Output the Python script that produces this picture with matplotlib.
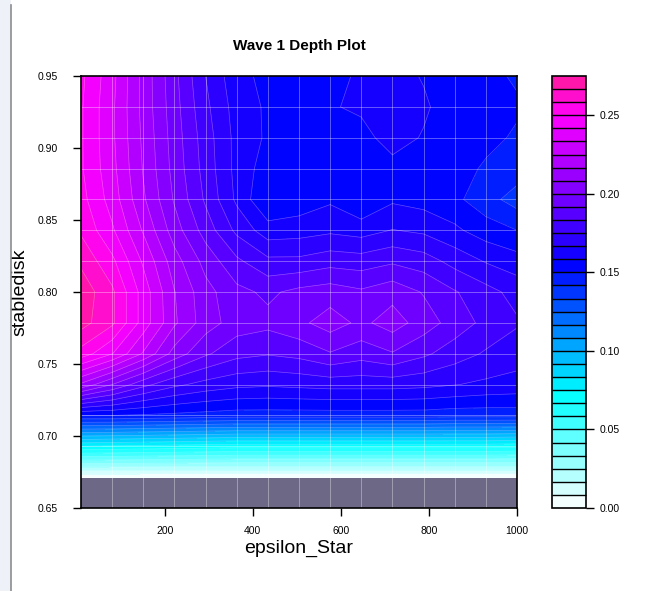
import numpy as np
import matplotlib
matplotlib.use("Agg")
import matplotlib.pyplot as plt
from matplotlib.colors import LinearSegmentedColormap
from matplotlib.patches import Rectangle
from matplotlib.lines import Line2D

plt.rcParams['font.family'] = ['Liberation Sans', 'DejaVu Sans']

# grille des points (epsilon_Star en x, stabledisk en y)
eps_star = np.linspace(10, 1000, 15)
stabledisk = np.linspace(0.65, 0.95, 15)

# profondeur de la vague 1, une ligne par valeur de stabledisk (du bas vers le haut)
depth = np.array([
    [np.nan] * 15,
    [0.001] * 15,
    [0.075, 0.074, 0.073, 0.072, 0.071, 0.070, 0.070, 0.070, 0.070, 0.070, 0.070, 0.070, 0.070, 0.070, 0.069],
    [0.150, 0.150, 0.149, 0.148, 0.147, 0.146, 0.146, 0.146, 0.146, 0.146, 0.146, 0.146, 0.145, 0.145, 0.145],
    [0.215, 0.200, 0.186, 0.177, 0.172, 0.169, 0.168, 0.169, 0.170, 0.170, 0.170, 0.169, 0.167, 0.165, 0.164],
    [0.255, 0.242, 0.224, 0.205, 0.193, 0.186, 0.184, 0.186, 0.191, 0.187, 0.191, 0.185, 0.179, 0.174, 0.170],
    [0.270, 0.260, 0.238, 0.218, 0.204, 0.196, 0.194, 0.198, 0.204, 0.198, 0.204, 0.196, 0.188, 0.181, 0.176],
    [0.272, 0.260, 0.238, 0.217, 0.203, 0.194, 0.190, 0.194, 0.196, 0.193, 0.197, 0.191, 0.184, 0.178, 0.172],
    [0.265, 0.252, 0.232, 0.212, 0.197, 0.185, 0.177, 0.177, 0.180, 0.179, 0.182, 0.179, 0.172, 0.166, 0.162],
    [0.257, 0.243, 0.224, 0.204, 0.188, 0.173, 0.162, 0.163, 0.165, 0.163, 0.167, 0.165, 0.160, 0.154, 0.150],
    [0.253, 0.238, 0.218, 0.199, 0.182, 0.165, 0.150, 0.153, 0.157, 0.150, 0.157, 0.155, 0.152, 0.145, 0.138],
    [0.251, 0.236, 0.216, 0.197, 0.180, 0.164, 0.154, 0.155, 0.157, 0.155, 0.157, 0.155, 0.153, 0.149, 0.146],
    [0.251, 0.235, 0.215, 0.196, 0.179, 0.164, 0.157, 0.156, 0.158, 0.157, 0.160, 0.158, 0.155, 0.152, 0.149],
    [0.251, 0.235, 0.214, 0.195, 0.177, 0.163, 0.157, 0.156, 0.158, 0.159, 0.161, 0.159, 0.156, 0.153, 0.151],
    [0.252, 0.236, 0.214, 0.194, 0.175, 0.161, 0.156, 0.155, 0.157, 0.159, 0.160, 0.158, 0.155, 0.152, 0.149],
])

levels = np.linspace(0, 0.275, 34)
cbar_ticks = [0.00, 0.05, 0.10, 0.15, 0.20, 0.25]
x_ticks = [200, 400, 600, 800, 1000]
y_ticks = [0.65, 0.70, 0.75, 0.80, 0.85, 0.90, 0.95]

vmax = 0.275
cmap = LinearSegmentedColormap.from_list("wave", [
    (0.0, "#ffffff"),
    (0.072 / vmax, "#00ffff"),
    (0.095 / vmax, "#00c0ff"),
    (0.155 / vmax, "#0000ff"),
    (0.250 / vmax, "#ff00ff"),
    (1.0, "#ff1aa0"),
])

fig = plt.figure(figsize=(6.46, 5.91), dpi=100)
W, H = 646, 591

# bordure de la capture d'ecran a gauche
fig.patches.append(Rectangle((0, 0), 11 / W, 1, transform=fig.transFigure,
                             facecolor="#eef2f8", edgecolor="none", zorder=-1))
fig.lines.append(Line2D([11 / W, 11 / W], [0, 1 - 5 / H], transform=fig.transFigure,
                        color="#8c8c8c", lw=1.2))

ax = fig.add_axes([81 / W, 1 - 508 / H, 436 / W, 432 / H])
ax.set_facecolor("#6c6886")

X, Y = np.meshgrid(eps_star, stabledisk)
cf = ax.contourf(X, Y, depth, levels=levels, cmap=cmap, vmin=0, vmax=vmax)
ax.contour(X, Y, depth, levels=levels, colors="white", linewidths=0.5, alpha=0.3)

for xv in eps_star[1:-1]:
    ax.axvline(xv, color="white", lw=0.7, alpha=0.35)
for yv in stabledisk[1:-1]:
    ax.axhline(yv, color="white", lw=0.7, alpha=0.35)

ax.set_xlim(eps_star[0], eps_star[-1])
ax.set_ylim(stabledisk[0], stabledisk[-1])
ax.set_xticks(x_ticks)
ax.set_yticks(y_ticks)
ax.set_yticklabels(["%.2f" % v for v in y_ticks])
ax.tick_params(direction="out", length=6, width=1, labelsize=7.5)
ax.tick_params(axis="y", pad=11)
ax.tick_params(axis="x", pad=7)
for s in ax.spines.values():
    s.set_linewidth(1.2)

ax.set_title("Wave 1 Depth Plot", fontsize=11, fontweight="bold", pad=19)
ax.set_xlabel("epsilon_Star", fontsize=14, labelpad=3)
ax.set_ylabel("stabledisk", fontsize=14, labelpad=6)

# echelle de couleurs
cax = fig.add_axes([552 / W, 1 - 508 / H, 34 / W, 432 / H])
cb = fig.colorbar(cf, cax=cax, drawedges=True)
cb.set_ticks(cbar_ticks)
cb.set_ticklabels(["%.2f" % v for v in cbar_ticks])
cb.outline.set_linewidth(1.2)
cb.dividers.set_color("black")
cb.dividers.set_linewidth(1.0)
cax.tick_params(direction="out", length=6, width=1, labelsize=7.5, pad=4)

fig.savefig("out.png", dpi=100)
